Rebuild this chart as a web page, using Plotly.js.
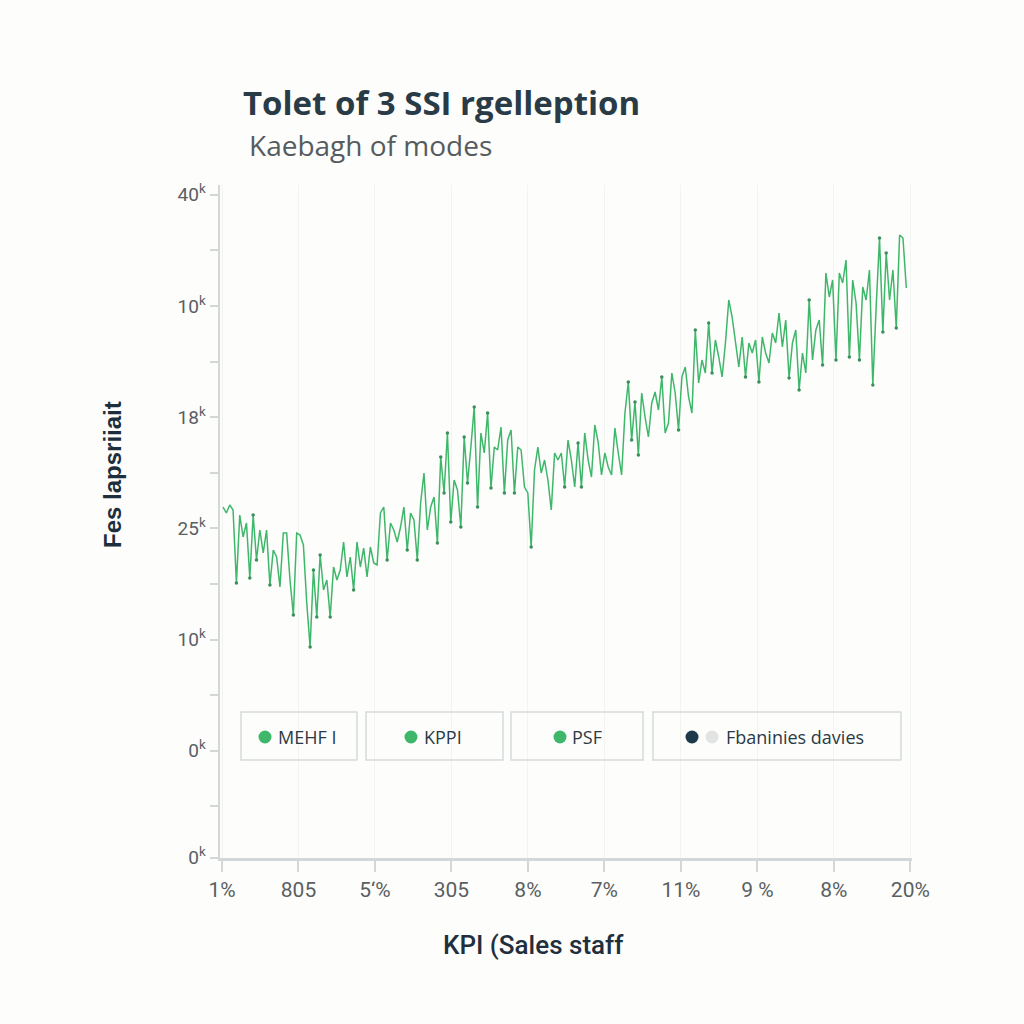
<!DOCTYPE html>
<html>
<head>
<meta charset="utf-8">
<script src="https://cdn.plot.ly/plotly-3.0.1.min.js"></script>
<style>html,body{margin:0;padding:0;background:#fdfdfb;}#chart{width:1024px;height:1024px;}</style>
</head>
<body>
<div id="chart"></div>
<script>
// ---- data ----
const titleText = 'Tolet of 3 SSI rgelleption';
const subtitleText = 'Kaebagh of modes';
const xTitle = 'KPI (Sales staff';
const yTitle = 'Fes lapsriiait';
const xTickLabels = ['1%', '805', '5‘%', '305', '8%', '7%', '11%', '9 %', '8%', '20%'];
const yTickLabels = ['0', '0', '10', '25', '18', '10', '40'];
const legendNames = ['MEHF I', 'KPPI', 'PSF', 'Fbaninies davies'];
const legendColors = [['#3fb76b'], ['#3fb76b'], ['#3fb76b'], ['#1c3a4c', '#e2e4e4']];

const seriesValues = [
  35.5, 34.9, 35.7, 35.2, 27.9, 34.7, 32.5, 33.9, 28.4, 34.7, 30.2, 33.2, 30.9, 33.2, 27.7, 31.2,
  30.5, 27.5, 32.9, 32.9, 28.2, 24.7, 32.9, 32.7, 31.7, 25.9, 21.5, 29.2, 24.5, 30.7, 27.2, 28.2,
  24.5, 29.5, 28.2, 29.2, 32.0, 28.5, 30.5, 27.2, 32.0, 29.5, 31.4, 28.5, 31.5, 29.9, 29.7, 34.9,
  35.5, 30.2, 33.9, 33.2, 32.0, 33.5, 35.5, 31.2, 34.9, 34.2, 30.2, 35.9, 38.9, 33.2, 35.5, 36.5,
  31.9, 40.5, 36.9, 42.9, 34.0, 38.2, 37.2, 33.5, 42.5, 37.9, 41.5, 45.5, 35.5, 42.9, 40.9, 44.9,
  37.4, 41.5, 41.2, 43.5, 36.9, 42.2, 43.2, 36.9, 41.5, 41.2, 37.5, 36.9, 31.5, 39.2, 41.5, 38.9,
  40.2, 38.2, 35.2, 40.9, 40.2, 40.9,
  37.5, 42.2, 40.2, 37.5, 41.9, 37.5, 42.9, 40.2, 38.5, 43.7, 42.0, 38.7, 40.9, 39.5, 38.7, 43.4,
  40.9, 38.7, 44.9, 48.0, 42.2, 46.0, 40.7, 46.9, 44.5, 42.5, 45.9, 47.0, 45.2, 48.5, 42.9, 43.9,
  48.9, 46.9, 43.2, 48.5, 49.5, 46.5, 44.9, 53.2, 47.9, 50.2, 48.9, 53.9, 48.9, 52.2, 50.5, 48.5,
  51.9, 56.2, 54.5, 52.2, 49.5, 52.5, 48.5, 51.9, 50.9, 52.2, 48.0, 52.5, 50.9, 49.9, 52.9, 51.9,
  54.9, 51.5, 54.2, 48.4, 51.9, 53.2, 47.2, 50.9, 48.9, 56.2, 50.2, 53.2, 54.2, 49.7, 58.9, 56.5,
  58.2, 50.2, 58.9, 57.9, 60.2, 50.5, 58.2, 55.9, 50.2, 57.5, 56.2, 59.2, 47.7, 55.5, 62.4, 53.0,
  60.9, 56.2, 59.2, 53.4, 62.7, 62.4, 57.4
];

// ---- drawing ----
const N = seriesValues.length;
const xIdx = seriesValues.map((_, i) => i);

// spike ends (local extremes) get small dots, like the reference
const spikeX = [], spikeY = [];
for (let i = 1; i < N - 1; i++) {
  const a = seriesValues[i - 1], b = seriesValues[i], c = seriesValues[i + 1];
  if ((b - a > 3 && b - c > 3) || (a - b > 3 && c - b > 3)) { spikeX.push(i); spikeY.push(b); }
}

const L = 220, R = 912, T = 185, B = 858;
const W = 1024, H = 1024;
const px = x => (x - L) / (R - L);
const py = y => (B - y) / (B - T);

const lineTrace = {
  x: xIdx, y: seriesValues, type: 'scatter', mode: 'lines',
  line: {color: '#3fb76b', width: 1.5}, hoverinfo: 'skip', showlegend: false
};
const dotTrace = {
  x: spikeX, y: spikeY, type: 'scatter', mode: 'markers',
  marker: {color: '#3a8f5c', size: 3.5}, hoverinfo: 'skip', showlegend: false
};

const yStep = 11.12;
const yTickVals = yTickLabels.map((_, k) => Math.max(k * yStep, 0.45));
const yTickText = yTickLabels.map(t => t + '<sup>k</sup>');
const xTickVals = xTickLabels.map((_, k) => -0.3 + k * (N - 1 + 1.5) / 9);

const shapes = [];
const annotations = [];
const boxes = [[241, 357], [366, 503], [511, 643], [653, 901]];
const dotCenters = [[265], [411], [560], [692, 712]];
const textStarts = [276, 422, 570, 724];
const R_DOT = 6.5;
boxes.forEach((b, i) => {
  shapes.push({type: 'rect', xref: 'paper', yref: 'paper',
    x0: px(b[0]), x1: px(b[1]), y0: py(760), y1: py(712),
    line: {color: '#d6dadb', width: 1.5}, fillcolor: 'rgba(255,255,255,0)', layer: 'above'});
  dotCenters[i].forEach((cx, j) => {
    shapes.push({type: 'circle', xref: 'paper', yref: 'paper',
      x0: px(cx - R_DOT), x1: px(cx + R_DOT), y0: py(737 + R_DOT), y1: py(737 - R_DOT),
      line: {width: 0}, fillcolor: legendColors[i][j], layer: 'above'});
  });
  annotations.push({xref: 'paper', yref: 'paper', x: px(textStarts[i]), y: py(737),
    xanchor: 'left', yanchor: 'middle', showarrow: false,
    text: legendNames[i],
    font: {family: 'Open Sans, sans-serif', size: 18, color: '#2a3a45'}});
});

annotations.push({xref: 'paper', yref: 'paper', x: px(247), y: py(145),
  xanchor: 'left', yanchor: 'middle', showarrow: false, text: subtitleText,
  font: {family: 'Open Sans, sans-serif', size: 28, color: '#555b60'}});
annotations.push({xref: 'paper', yref: 'paper', x: px(112), y: py(475),
  xanchor: 'center', yanchor: 'middle', showarrow: false, textangle: -90,
  text: '<b>' + yTitle + '</b>',
  font: {family: 'Liberation Sans, Arial, sans-serif', size: 24, color: '#1d2f3d'}});
annotations.push({xref: 'paper', yref: 'paper', x: px(533), y: py(945),
  xanchor: 'center', yanchor: 'middle', showarrow: false, text: xTitle,
  font: {family: 'Roboto, sans-serif', size: 26, color: '#1f2f3d', weight: 500}});

const layout = {
  width: W, height: H,
  paper_bgcolor: '#fdfdfb', plot_bgcolor: '#fdfdfb',
  margin: {l: L, r: W - R, t: T, b: H - B},
  title: {text: '<b>' + titleText + '</b>', xref: 'container', yref: 'container',
    x: 243 / W, xanchor: 'left', y: 1 - 103 / H, yanchor: 'middle',
    font: {family: 'Open Sans, sans-serif', size: 33, color: '#2a3b48'}},
  xaxis: {
    range: [-0.9, N - 1 + 1.7], tickmode: 'array', tickvals: xTickVals, ticktext: xTickLabels,
    showline: true, linecolor: '#d3d7d7', linewidth: 2.5,
    ticks: 'outside', ticklen: 11, tickwidth: 2, tickcolor: '#d3d7d7',
    showgrid: true, gridcolor: '#f2f4f2', gridwidth: 1, zeroline: false,
    tickfont: {family: 'Roboto, sans-serif', size: 21, color: '#5a5f63'}
  },
  yaxis: {
    range: [0.4, 67.7], tickmode: 'array', tickvals: yTickVals, ticktext: yTickText,
    showline: true, linecolor: '#d3d7d7', linewidth: 2.5,
    ticks: 'outside', ticklen: 8, tickwidth: 2, tickcolor: '#d3d7d7',
    showgrid: false, zeroline: false,
    minor: {tickmode: 'linear', tick0: yStep / 2, dtick: yStep, ticks: 'outside', ticklen: 8, tickcolor: '#d3d7d7', tickwidth: 2, showgrid: false},
    tickfont: {family: 'Roboto, sans-serif', size: 19, color: '#5a5f63'}
  },
  shapes: shapes,
  annotations: annotations,
  showlegend: false
};

Plotly.newPlot('chart', [lineTrace, dotTrace], layout, {staticPlot: true});
</script>
</body>
</html>
